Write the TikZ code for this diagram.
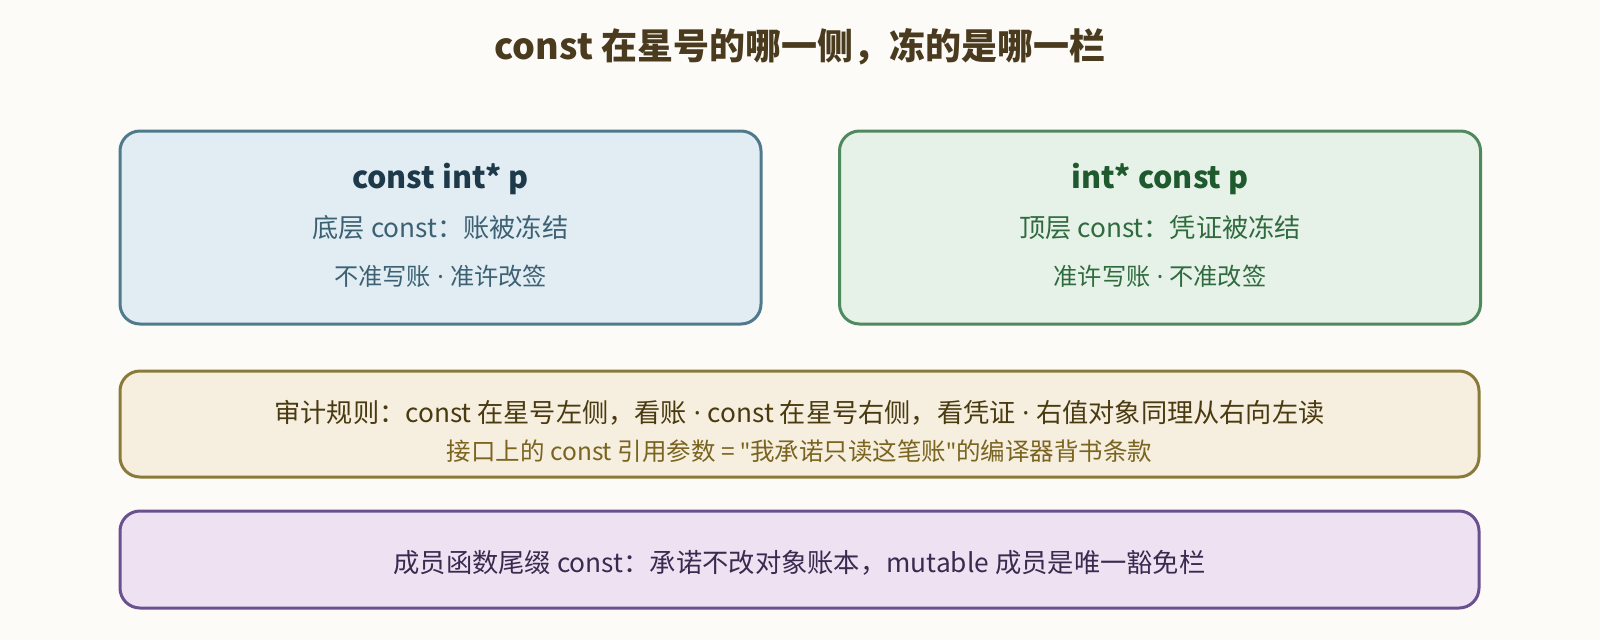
\documentclass[tikz,border=0pt]{standalone}
\usepackage{fontspec}
\setmainfont{Noto Sans CJK SC}
\newfontfamily\plainfont{Noto Sans}[Ligatures=TeXOff]
\usepackage{tikz}
\usetikzlibrary{calc}

\definecolor{bgcream}{HTML}{FCFBF7}
\definecolor{titlebrown}{HTML}{4A3A1E}
\definecolor{lowfill}{HTML}{E1ECF3}
\definecolor{lowline}{HTML}{4F7A8C}
\definecolor{lowhead}{HTML}{1E3A4A}
\definecolor{lowtext}{HTML}{3C6173}
\definecolor{topfill}{HTML}{E6F1E8}
\definecolor{topline}{HTML}{4E8A5E}
\definecolor{tophead}{HTML}{1E5A2E}
\definecolor{toptext}{HTML}{2F6B3E}
\definecolor{rulefill}{HTML}{F6EFDF}
\definecolor{ruleline}{HTML}{8A7A3A}
\definecolor{ruletext}{HTML}{4A3A10}
\definecolor{rulesub}{HTML}{7A6420}
\definecolor{memfill}{HTML}{EEE2F2}
\definecolor{memline}{HTML}{6A5090}
\definecolor{memtext}{HTML}{3A2A50}

\newcommand{\middot}{{\plainfont\ ·\ }}
\newcommand{\dquote}{{\plainfont "}}

\tikzset{
 ledger/.style={draw, line width=3pt, rounded corners=20pt, minimum width=641pt, inner sep=0pt},
 headtxt/.style={anchor=base, font=\fontsize{30.5}{34}\selectfont\bfseries},
 bigtxt/.style={anchor=base, font=\fontsize{26.2}{30}\selectfont},
 smalltxt/.style={anchor=base, font=\fontsize{24.2}{28}\selectfont}
}

\begin{document}
\begin{tikzpicture} [x=1pt,y=-1pt]
\fill[bgcream] (0,0) rectangle (1600,640);
\node[anchor=base, font=\fontsize{36}{40}\selectfont\bfseries, text=titlebrown] (title) at (800,59) {const 在星号的哪一侧，冻的是哪一栏};

\node[ledger, fill=lowfill, draw=lowline, minimum height=193pt] (low) at (440.5,227.5) {};
\node[ledger, fill=topfill, draw=topline, minimum height=193pt] (top) at (1160,227.5) {};
\node[ledger, fill=rulefill, draw=ruleline, minimum width=1359pt, minimum height=106pt] (rule) at (799.5,424) {};
\node[ledger, fill=memfill, draw=memline, minimum width=1359pt, minimum height=97pt] (mem) at (799.5,559.5) {};

\node[headtxt, text=lowhead] (lowhd) at (low.center |- 0,188) {const int* p};
\node[bigtxt, text=lowtext] (lowsub) at (low.center |- 0,237) {底层 const：账被冻结};
\node[smalltxt, text=lowtext] (lowrule) at (low.center |- 0,285) {不准写账\middot 准许改签};

\node[headtxt, text=tophead] (tophd) at (top.center |- 0,188) {int* const p};
\node[bigtxt, text=toptext] (topsub) at (top.center |- 0,237) {顶层 const：凭证被冻结};
\node[smalltxt, text=toptext] (toprule) at (top.center |- 0,285) {准许写账\middot 不准改签};

\node[bigtxt, text=ruletext] (ruleone) at (rule.center |- 0,422) {审计规则：const 在星号左侧，看账\middot const 在星号右侧，看凭证\middot 右值对象同理从右向左读};
\node[smalltxt, font=\fontsize{24.5}{28}\selectfont, text=rulesub] (ruletwo) at (rule.center |- 0,460) {接口上的 const 引用参数 = \dquote 我承诺只读这笔账\dquote 的编译器背书条款};

\node[bigtxt, font=\fontsize{26.3}{30}\selectfont, text=memtext] (memone) at (mem.center |- 0,572) {成员函数尾缀 const：承诺不改对象账本，mutable 成员是唯一豁免栏};
\end{tikzpicture}
\end{document}
